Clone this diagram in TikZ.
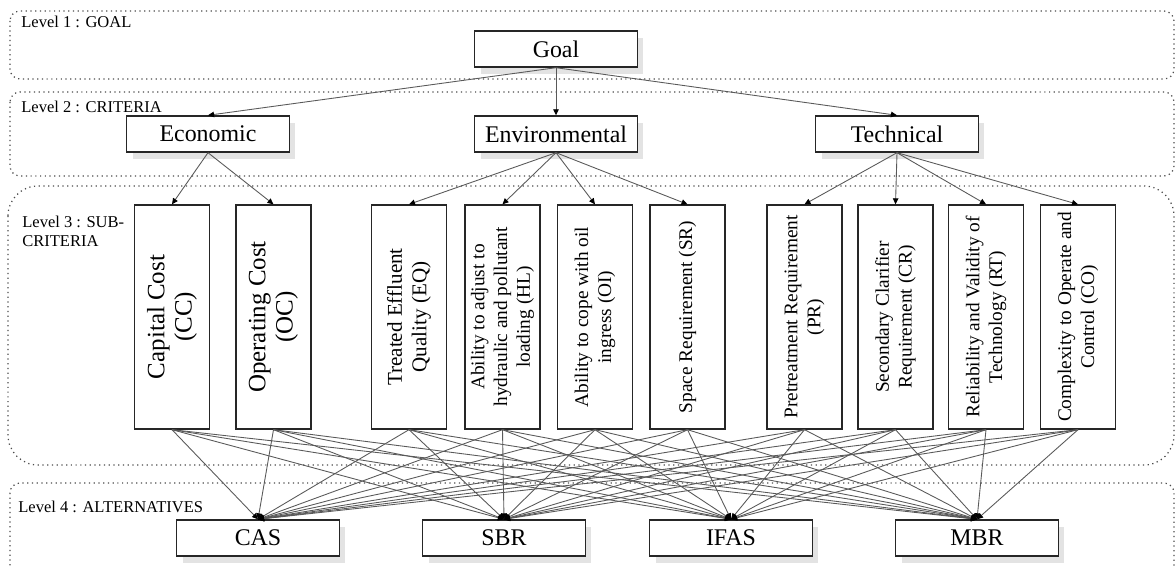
\documentclass[tikz,border=0pt]{standalone}
\usepackage{fontspec}
\setmainfont{Liberation Serif}
\usetikzlibrary{arrows.meta,shadows}
\tikzset{
	level/.style={draw=black!70, dotted, line width=0.7pt, rounded corners=0.2cm},
	lvltext/.style={inner sep=0pt, font=\fontsize{9.4}{10.8}\selectfont},
	box/.style={draw=black!85, line width=0.8pt, fill=white, minimum width=3.26cm, minimum height=0.72cm, inner sep=0pt, font=\fontsize{13.6}{15}\selectfont, drop shadow={shadow xshift=0.12cm, shadow yshift=-0.14cm, fill=black!11, opacity=1}},
	subbox/.style={draw=black!85, line width=0.8pt, fill=white, rotate=90, minimum width=4.48cm, minimum height=1.5cm, inner sep=0pt, align=center, font=\fontsize{11}{13}\selectfont},
	bigtext/.style={font=\fontsize{14.2}{15.5}\selectfont},
	link/.style={draw=black!65, line width=0.5pt, -{Triangle[length=0.12cm, width=0.11cm, black]}}
}
\begin{document}
\begin{tikzpicture}[x=0.02cm, y=-0.02cm]
		\useasboundingbox (0,0) rectangle (1176,567);
		\draw[level] (10,11) rectangle (1174,79);
		\draw[level] (10,92) rectangle (1174,176);
		\draw[level, rounded corners=0.6cm] (8,186) rectangle (1174,465);
		\draw[level] (10,483) rectangle (1174,585);

		\node (l1)[lvltext, anchor=base west] at (21,28) {Level 1 : GOAL};
		\node (l2)[lvltext, anchor=base west] at (21,113) {Level 2 : CRITERIA};
		\node (l3)[lvltext, anchor=north west, align=left] at (22,216) {Level 3 : SUB-\\CRITERIA};
		\node (l4)[lvltext, anchor=base west] at (18,512) {Level 4 : ALTERNATIVES};

		\node (goal)[box] at (556,49) {Goal};
		\node (eco)[box] at (208,134) {Economic};
		\node (env)[box] at (556,134) {Environmental};
		\node (tec)[box] at (897,134) {Technical};

		% sub-criteria, rotated: east is the top edge, west the bottom edge
		\node (cc)[subbox, bigtext] at (172,317) {Capital Cost\\(CC)};
		\node (oc)[subbox, bigtext] at (273.5,317) {Operating Cost\\(OC)};
		\node (eq)[subbox, font=\fontsize{12}{14}\selectfont] at (409,317) {Treated Effluent\\Quality (EQ)};
		\node (hl)[subbox] at (502.5,317) {Ability to adjust to\\hydraulic and pollutant\\loading (HL)};
		\node (oi)[subbox] at (595,317) {Ability to cope with oil\\ingress (OI)};
		\node (sr)[subbox] at (687.5,317) {Space Requirement (SR)};
		\node (pr)[subbox] at (804.5,317) {Pretreatment Requirement\\(PR)};
		\node (cr)[subbox] at (895.5,317) {Secondary Clarifier\\Requirement (CR)};
		\node (rt)[subbox] at (986,317) {Reliability and Validity of\\Technology (RT)};
		\node (co)[subbox] at (1078,317) {Complexity to Operate and\\Control (CO)};

		\node (cas)[box] at (258,538) {CAS};
		\node (sbr)[box] at (504,538) {SBR};
		\node (ifas)[box] at (731,538) {IFAS};
		\node (mbr)[box] at (977,538) {MBR};

		\foreach \c in {eco,env,tec}
			\draw[link] (goal.south) -- (\c.north);
		\foreach \s in {cc,oc}
			\draw[link] (eco.south) -- (\s.east);
		\foreach \s in {eq,hl,oi,sr}
			\draw[link] (env.south) -- (\s.east);
		\foreach \s in {pr,cr,rt,co}
			\draw[link] (tec.south) -- (\s.east);
		\foreach \s in {cc,oc,eq,hl,oi,sr,pr,cr,rt,co}
			\foreach \a in {cas,sbr,ifas,mbr}
				\draw[link] (\s.west) -- (\a.north);
	\end{tikzpicture}
\end{document}
